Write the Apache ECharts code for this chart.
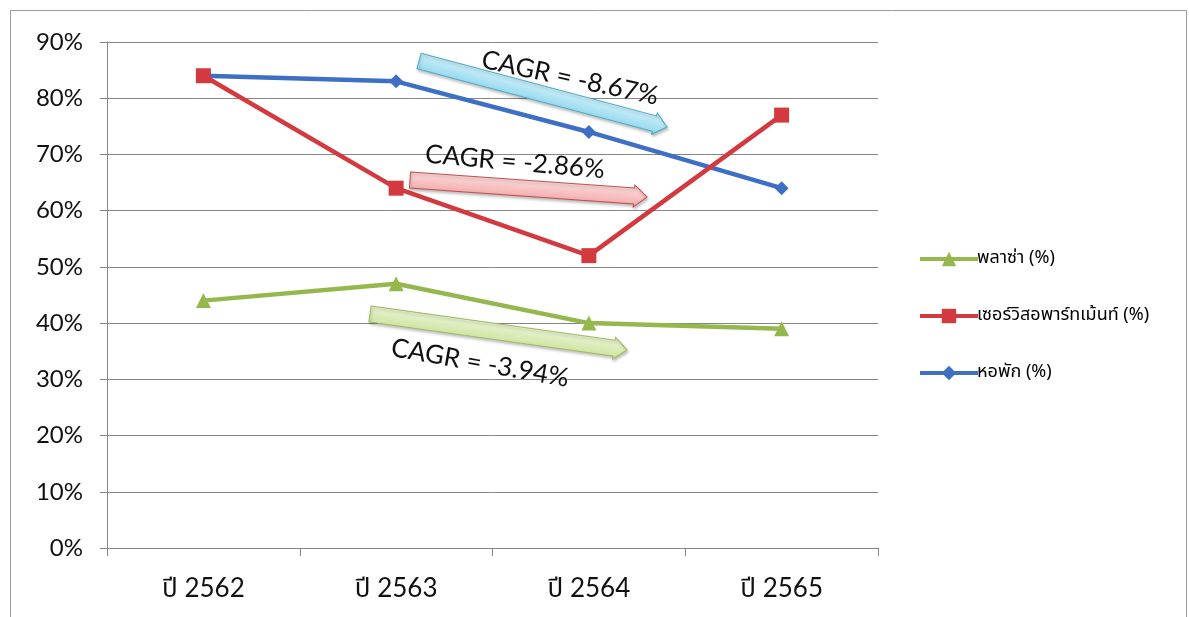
<!DOCTYPE html>
<html>
<head>
<meta charset="utf-8">
<script src="https://cdn.jsdelivr.net/npm/echarts@6/dist/echarts.min.js"></script>
<style>
  html, body { margin: 0; padding: 0; background: #ffffff; }
  #chart { width: 1189px; height: 617px; }
</style>
</head>
<body>
<div id="chart"></div>
<script>
const categories = ['ปี 2562', 'ปี 2563', 'ปี 2564', 'ปี 2565'];
const plazaValues = [44, 47, 40, 39];
const serviceValues = [84, 64, 52, 77];
const dormValues = [84, 83, 74, 64];
const seriesNames = ['พลาซ่า (%)', 'เซอร์วิสอพาร์ทเม้นท์ (%)', 'หอพัก (%)'];
const yTicks = [0, 10, 20, 30, 40, 50, 60, 70, 80, 90];
const cagrLabels = ['CAGR = -8.67%', 'CAGR = -2.86%', 'CAGR = -3.94%'];

const thaiFont = "'Noto Sans Thai', 'Noto Sans Thai UI', 'Noto Sans', 'DejaVu Sans', sans-serif";
const numFont = "Lato, 'Open Sans', sans-serif";

const chart = echarts.init(document.getElementById('chart'));

function arrow(x1, y1, x2, y2, fillA, fillB, stroke) {
  const dx = x2 - x1, dy = y2 - y1;
  const L = Math.sqrt(dx * dx + dy * dy);
  const h = 8, hw = 11, hl = 13;
  return {
    type: 'polygon',
    x: x1, y: y1,
    rotation: -Math.atan2(dy, dx),
    shape: { points: [[0, -h], [L - hl, -h], [L - hl, -hw], [L, 0], [L - hl, hw], [L - hl, h], [0, h]] },
    style: {
      fill: new echarts.graphic.LinearGradient(0, 0, 0, 1, [
        { offset: 0, color: fillA }, { offset: 1, color: fillB }
      ]),
      stroke: stroke, lineWidth: 1,
      shadowBlur: 3, shadowOffsetX: 1, shadowOffsetY: 2, shadowColor: 'rgba(0,0,0,0.25)'
    },
    z: 100
  };
}
function label(text, cx, cy, deg) {
  return {
    type: 'text',
    x: cx, y: cy,
    rotation: -deg * Math.PI / 180,
    style: { text: text, fill: '#111', font: '26px ' + numFont, align: 'center', verticalAlign: 'middle' },
    z: 101
  };
}

const option = {
  backgroundColor: '#ffffff',
  animation: false,
  grid: { left: 107, right: 311, top: 42, bottom: 69, containLabel: false },
  legend: {
    orient: 'vertical',
    left: 913, top: 245,
    itemWidth: 58, itemHeight: 18, itemGap: 39,
    data: seriesNames,
    lineStyle: { width: 4 },
    textStyle: { fontFamily: thaiFont, fontSize: 18, color: '#000', padding: [0, 0, 0, -6] }
  },
  xAxis: {
    type: 'category',
    data: categories,
    boundaryGap: true,
    axisLine: { show: true, lineStyle: { color: '#868686', width: 1 } },
    axisTick: { show: true, length: 8, lineStyle: { color: '#868686' } },
    axisLabel: { fontFamily: "Lato, " + thaiFont, fontSize: 26, color: '#111', margin: 28 },
    splitLine: { show: false }
  },
  yAxis: {
    type: 'value',
    min: 0, max: 90, interval: 10,
    axisLine: { show: true, lineStyle: { color: '#868686', width: 1 } },
    axisTick: { show: true, length: 7, lineStyle: { color: '#868686' } },
    axisLabel: { fontFamily: numFont, fontSize: 24, color: '#111', margin: 24, formatter: v => v + '%' },
    splitLine: { show: true, lineStyle: { color: '#868686', width: 1 } }
  },
  series: [
    {
      name: seriesNames[2], type: 'line', data: dormValues,
      symbol: 'diamond', symbolSize: 14,
      lineStyle: { color: '#3D6FC4', width: 4.5 },
      itemStyle: { color: '#3D6FC4' }, z: 3
    },
    {
      name: seriesNames[1], type: 'line', data: serviceValues,
      symbol: 'rect', symbolSize: 15,
      lineStyle: { color: '#D33A40', width: 4.5 },
      itemStyle: { color: '#D33A40' }, z: 4
    },
    {
      name: seriesNames[0], type: 'line', data: plazaValues,
      symbol: 'triangle', symbolSize: 15,
      lineStyle: { color: '#95B84E', width: 4.5 },
      itemStyle: { color: '#95B84E' }, z: 2
    }
  ],
  graphic: [
    { type: 'rect', shape: { x: 10.5, y: 10.5, width: 1176, height: 640 }, style: { fill: 'none', stroke: '#9a9a9a', lineWidth: 1 }, z: 0 },
    arrow(419, 61, 667, 127, '#D6F3FB', '#8DD6EE', '#4BACC6'),
    arrow(410, 180, 647, 197, '#FDE2E2', '#F2A6A6', '#C0504D'),
    arrow(370, 314, 627, 350, '#EEF6DC', '#CBE29A', '#9BBB59'),
    label(cagrLabels[0], 570, 78, 12),
    label(cagrLabels[1], 515, 162, 5),
    label(cagrLabels[2], 480, 363, 10)
  ]
};
chart.setOption(option);
</script>
</body>
</html>
